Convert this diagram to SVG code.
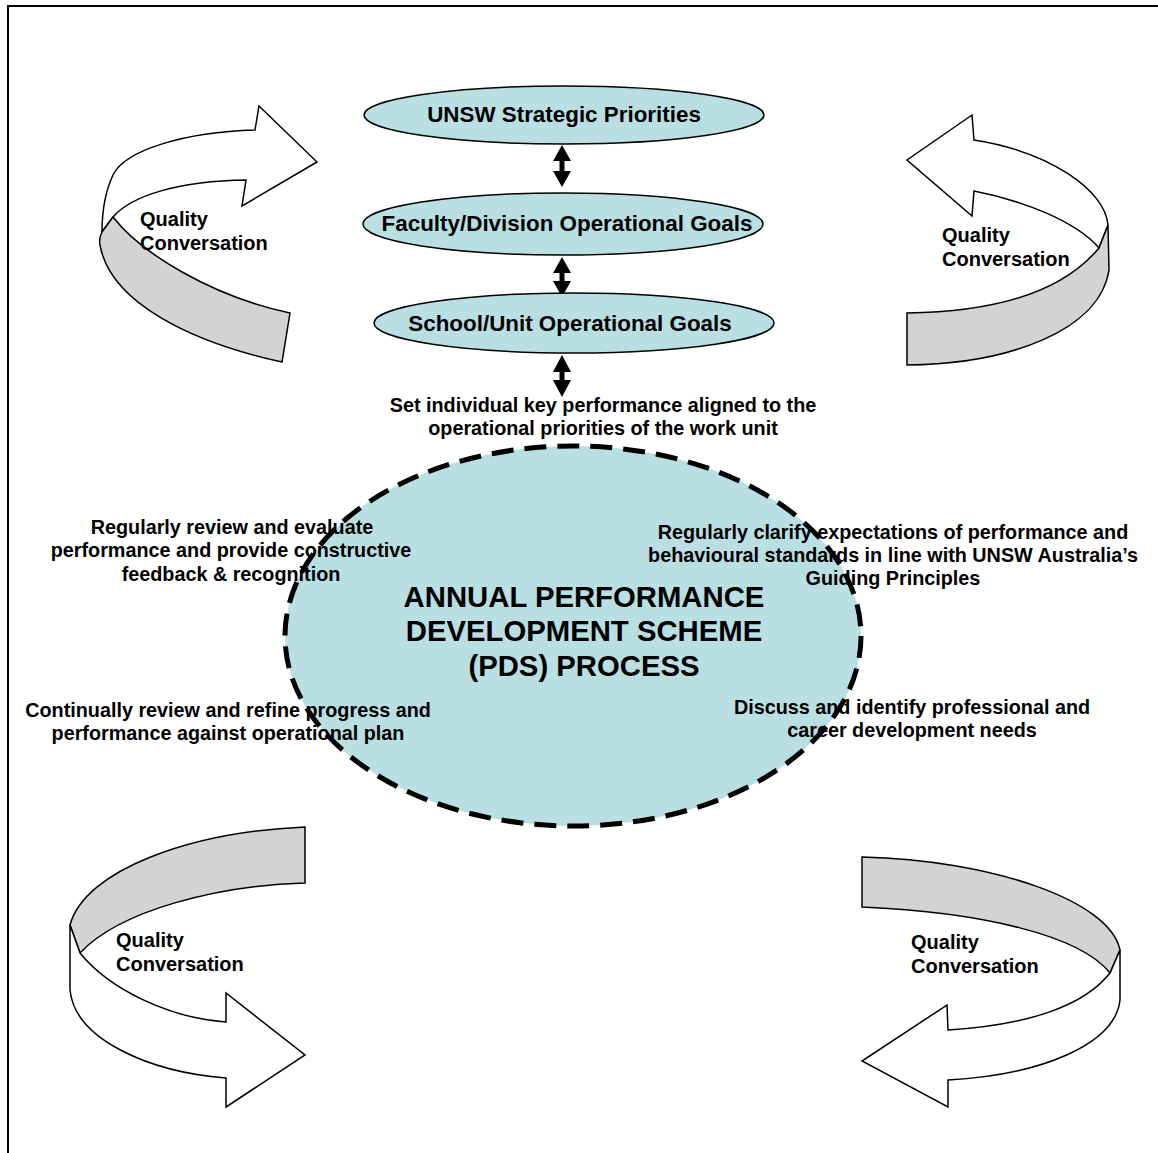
<svg xmlns="http://www.w3.org/2000/svg" width="1158" height="1153" viewBox="0 0 1158 1153">
<style>
.t{font-family:"Liberation Sans",Arial,sans-serif;font-weight:bold;fill:#000}
.s{font-size:19.8px}
.q{font-size:20px}
.m{font-size:22.4px}
.b{font-size:29.3px}
.oval{fill:#b9dfe3;stroke:#000;stroke-width:1.5}
.w{fill:#fff;stroke:#000;stroke-width:1.5;stroke-linejoin:miter}
.g{fill:#d3d3d3;stroke:#000;stroke-width:1.5}
.da{fill:#000}
</style>
<rect width="1158" height="1153" fill="#fff"/>
<path d="M8,1153 V6 H1158" fill="none" stroke="#000" stroke-width="2"/>

<g id="connectors">
<path class="da" d="M562,145 L571,161 L564.5,161 L564.5,171 L571,171 L562,187 L553,171 L559.5,171 L559.5,161 L553,161 Z"/>
<path class="da" d="M562,257 L571,273 L564.5,273 L564.5,281 L571,281 L562,297 L553,281 L559.5,281 L559.5,273 L553,273 Z"/>
<path class="da" d="M562,355 L571,372 L564.5,372 L564.5,380 L571,380 L562,397 L553,380 L559.5,380 L559.5,372 L553,372 Z"/>
</g>

<g id="node-unsw">
<ellipse class="oval" cx="564" cy="115" rx="200" ry="29"/>
<text class="t m" x="564" y="122" text-anchor="middle">UNSW Strategic Priorities</text>
</g>
<g id="node-faculty">
<ellipse class="oval" cx="563" cy="224" rx="200" ry="31"/>
<text class="t m" x="567" y="231" text-anchor="middle">Faculty/Division Operational Goals</text>
</g>
<g id="node-school">
<ellipse class="oval" cx="574" cy="323" rx="200" ry="30"/>
<text class="t m" x="570" y="331" text-anchor="middle">School/Unit Operational Goals</text>
</g>

<g id="label-set">
<text class="t s" x="603" y="412" text-anchor="middle">Set individual key performance aligned to the</text>
<text class="t s" x="603" y="435" text-anchor="middle">operational priorities of the work unit</text>
</g>

<g id="node-pds">
<ellipse cx="573" cy="636" rx="288" ry="190" fill="#b9dfe3" stroke="#000" stroke-width="5" stroke-dasharray="22,11"/>
<text class="t b" x="584" y="607" text-anchor="middle">ANNUAL PERFORMANCE</text>
<text class="t b" x="584" y="641" text-anchor="middle">DEVELOPMENT SCHEME</text>
<text class="t b" x="584" y="676" text-anchor="middle">(PDS) PROCESS</text>
</g>

<g id="label-review">
<text class="t s" x="232" y="534" text-anchor="middle">Regularly review and evaluate</text>
<text class="t s" x="231" y="557" text-anchor="middle">performance and provide constructive</text>
<text class="t s" x="231" y="581" text-anchor="middle">feedback &amp; recognition</text>
</g>
<g id="label-clarify">
<text class="t s" x="893" y="539" text-anchor="middle">Regularly clarify expectations of performance and</text>
<text class="t s" x="893" y="562" text-anchor="middle">behavioural standards in line with UNSW Australia’s</text>
<text class="t s" x="893" y="585" text-anchor="middle">Guiding Principles</text>
</g>
<g id="label-continually">
<text class="t s" x="228" y="717" text-anchor="middle">Continually review and refine progress and</text>
<text class="t s" x="228" y="740" text-anchor="middle">performance against operational plan</text>
</g>
<g id="label-discuss">
<text class="t s" x="912" y="714" text-anchor="middle">Discuss and identify professional and</text>
<text class="t s" x="912" y="737" text-anchor="middle">career development needs</text>
</g>

<g id="arrow-top-left">
<path class="w" d="M255,130 L259,106 L317,162 L242,206 L246,180 C180,181 132,195 113,217 L102,232 C102,212 106,190 113,175 C125,150 185,132 255,130 Z"/>
<path class="g" d="M113,217 C140,252 210,296 290,313 L282,362 C190,342 110,302 100,245 C99,240 100,236 102,232 Z"/>
<text class="t q" x="140" y="226">Quality</text>
<text class="t q" x="140" y="250">Conversation</text>
</g>
<g id="arrow-top-right">
<path class="w" d="M974,140 L972,115 L907,160 L972,216 L974,191 C1020,200 1075,220 1099,248 L1108,225 C1105,190 1050,152 974,140 Z"/>
<path class="g" d="M1099,248 C1060,295 990,312 907,313 L907,365 C1010,364 1100,330 1109,270 L1108,225 Z"/>
<text class="t q" x="942" y="242">Quality</text>
<text class="t q" x="942" y="266">Conversation</text>
</g>
<g id="arrow-bottom-left">
<path class="g" d="M305,827 L305,883 C220,885 120,910 80,953 L70,925 C85,870 190,832 305,827 Z"/>
<path class="w" d="M70,925 L80,953 C110,990 170,1018 226,1022 L226,993 L305,1055 L226,1107 L226,1078 C150,1072 75,1040 70,990 Z"/>
<text class="t q" x="116" y="947">Quality</text>
<text class="t q" x="116" y="971">Conversation</text>
</g>
<g id="arrow-bottom-right">
<path class="g" d="M862,857 C990,860 1110,900 1120,950 L1110,973 C1080,935 980,912 862,907 Z"/>
<path class="w" d="M1110,973 C1085,1005 1030,1025 948,1030 L947,1005 L862,1061 L948,1107 L948,1080 C1040,1075 1115,1045 1120,1000 L1120,950 Z"/>
<text class="t q" x="911" y="949">Quality</text>
<text class="t q" x="911" y="973">Conversation</text>
</g>
</svg>
